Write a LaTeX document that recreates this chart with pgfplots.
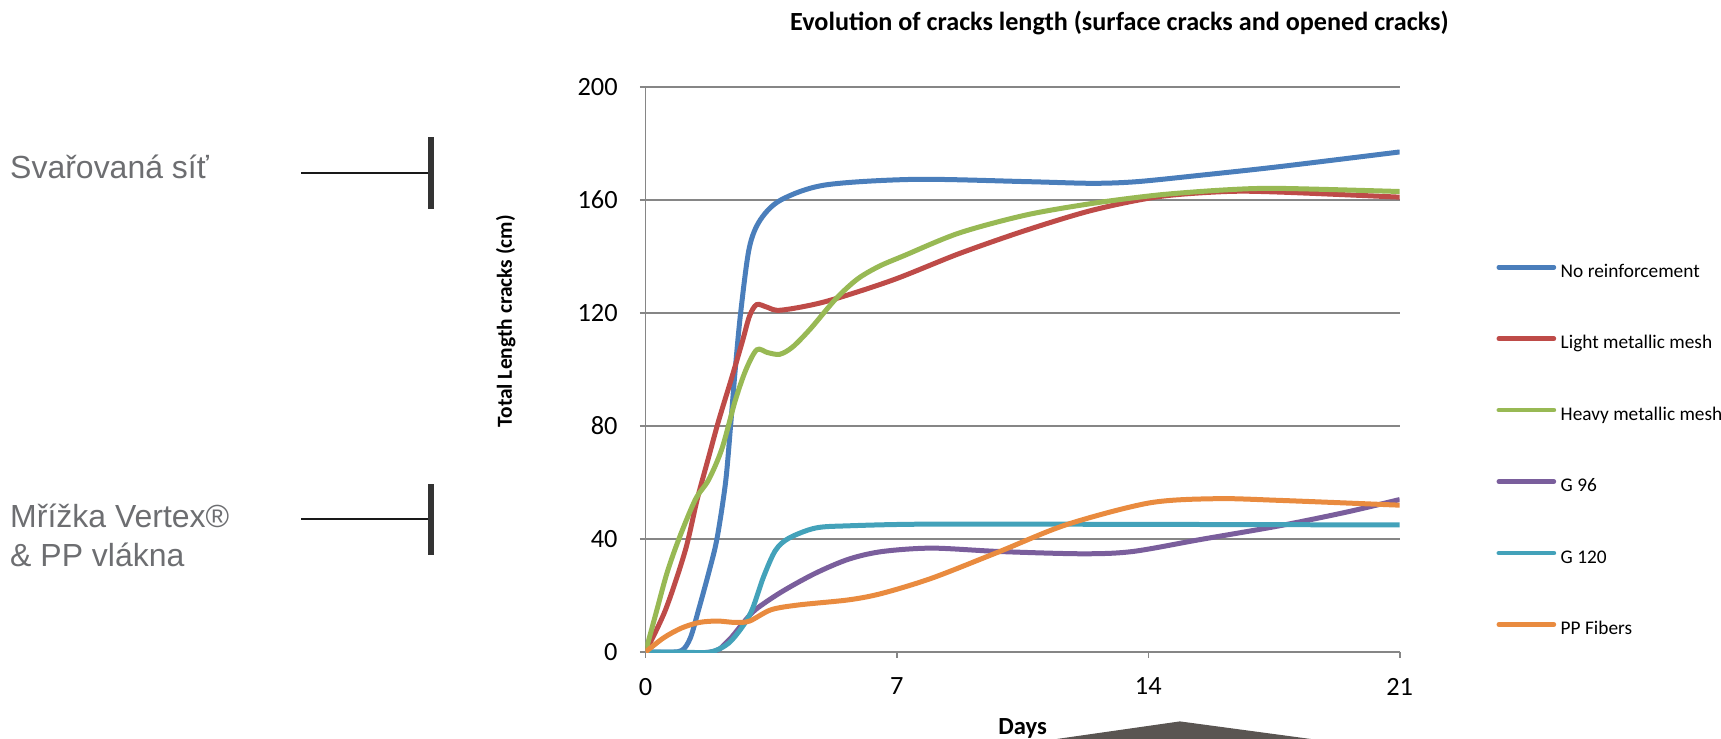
\documentclass[border=0pt]{standalone}
\usepackage{pgfplots}
\pgfplotsset{compat=1.18}
\usepackage{fontspec}
\setmainfont{Carlito}
\newfontfamily\arialf{Liberation Sans}
\definecolor{cBlue}{HTML}{4A7EBB}
\definecolor{cRed}{HTML}{BE4B48}
\definecolor{cGreen}{HTML}{98B954}
\definecolor{cPurple}{HTML}{7A5E9C}
\definecolor{cTeal}{HTML}{43A2BA}
\definecolor{cOrange}{HTML}{E98B3F}
\definecolor{gridgray}{HTML}{868686}
\definecolor{anngray}{HTML}{6D6E71}
\definecolor{bargray}{HTML}{333333}
\definecolor{shapegray}{HTML}{5A5552}
\begin{document}
\begin{tikzpicture}[x=0.022cm,y=0.022cm]
\useasboundingbox (0,0) rectangle (1565,672);
% left annotations
\node[anchor=west,inner sep=0pt,font=\arialf\fontsize{18.2}{21}\selectfont,text=anngray] at (9,520) {Svařovaná síť};
\draw[line width=0.046cm,black!90] (274,515) -- (390,515);
\fill[bargray] (389,482) rectangle (395,547);
\node[anchor=west,inner sep=0pt,align=left,font=\arialf\fontsize{18.2}{22}\selectfont,text=anngray] at (9,185) {Mřížka Vertex®\\\& PP vlákna};
\draw[line width=0.046cm,black!90] (274,200) -- (390,200);
\fill[bargray] (389,167) rectangle (395,232);
% title
\node[font=\bfseries\fontsize{14.9}{17}\selectfont] at (1018,651) {Evolution of cracks length (surface cracks and opened cracks)};
% y label
\node[rotate=90,font=\bfseries\fontsize{12.2}{14}\selectfont] at (460,380) {Total Length cracks (cm)};
% bottom shape
\fill[shapegray] (961,0) -- (1073,16) -- (1192,0) -- cycle;
% x label
\node[anchor=base,font=\bfseries\fontsize{14}{16}\selectfont] at (930,4) {Days};
\begin{axis}[
  at={(12.914cm,1.738cm)}, anchor=south west,
  width=15.092cm, height=11.308cm, scale only axis,
  xmin=0, xmax=21, ymin=0, ymax=200,
  xtick={0,7,14,21}, ytick={0,40,80,120,160,200},
  axis x line=bottom, axis y line=left,
  axis line style={-, draw=gridgray, line width=0.9pt},
  tick style={draw=gridgray, line width=0.9pt},
  tick align=outside, major tick length=0.11cm,
  ymajorgrids, grid style={draw=gridgray, line width=0.9pt},
  /pgf/number format/assume math mode=true,
  tick label style={font=\fontsize{15}{18}\selectfont, inner sep=0pt},
  yticklabel style={xshift=-0.44cm},
  xticklabel style={yshift=-0.4cm},
  clip=true,
  legend cell align=left,
  legend style={at={(1.1283,0.690)}, anchor=north west, draw=none, fill=none,
    inner sep=0pt, outer sep=0pt, row sep=1.03cm,
    font=\fontsize{11}{13}\selectfont,
    nodes={inner sep=0pt, text height=0.3cm, text depth=0.1cm},
    /tikz/every odd column/.append style={column sep=0.09cm}},
  legend image code/.code={\draw[#1, line width=0.095cm, line cap=round] (0cm,0.1cm) -- (1.1cm,0.1cm);},
  every axis plot/.append style={line width=0.1cm, smooth, tension=0.5, no markers},
]
\addplot[cBlue] coordinates {(0,0) (0.5,0) (1.0,0.5) (1.25,5) (1.48,15) (1.76,28) (1.99,40) (2.23,60) (2.37,80) (2.5,100) (2.65,120) (2.89,143) (3.2,153) (3.77,160) (5.0,165.3) (7.5,167.3) (10.6,166.5) (12.45,165.9) (13.7,166.5) (15.56,168.9) (17.65,171.8) (21,177)};
\addlegendentry{No reinforcement}
\addplot[cRed] coordinates {(0,0) (0.56,15) (1.11,36) (1.44,54) (1.76,69) (2.04,82) (2.4,97) (2.7,110) (2.9,119) (3.1,123) (3.4,122) (3.77,121) (5.0,124) (6.87,131.6) (8.73,141) (10.6,149.3) (12.45,156.4) (14.3,161.2) (16.18,163) (17.65,162.8) (21,161)};
\addlegendentry{Light metallic mesh}
\addplot[cGreen] coordinates {(0,0) (0.32,15) (0.6,28) (0.93,40) (1.39,54) (1.76,61) (2.13,72) (2.5,89) (2.8,100) (3.1,107) (3.4,106) (3.74,105.4) (4.1,108) (4.6,114.5) (5.3,125) (5.9,132) (6.5,136.5) (7.2,140.3) (8.73,148.3) (10.6,154.7) (12.45,158.8) (14.3,161.8) (16.18,163.6) (17.65,164.1) (21,163)};
\addlegendentry{Heavy metallic mesh}
\addplot[cPurple] coordinates {(0,0) (1.8,0) (2.3,4) (2.7,10) (3.06,15) (3.8,21.4) (4.73,27.9) (5.66,32.9) (6.59,35.6) (7.98,36.8) (9.86,35.6) (12.17,34.8) (13.56,35.6) (15.43,39.8) (17.65,44.7) (19.5,49.5) (21,54)};
\addlegendentry{G 96}
\addplot[cTeal] coordinates {(0,0) (1.0,0) (1.8,0) (2.3,3) (2.7,9) (2.97,15) (3.29,26.7) (3.62,36) (3.99,40.3) (4.73,43.9) (5.66,44.7) (7.98,45.3) (14,45.2) (21,45)};
\addlegendentry{G 120}
\addplot[cOrange] coordinates {(0,0) (0.5,5) (1.0,8.5) (1.5,10.5) (2.0,11) (2.5,10.5) (2.9,11) (3.5,15) (4.27,16.7) (5.66,18.5) (6.59,20.8) (7.98,26.2) (9.86,35.6) (11.72,45.1) (14.03,52.8) (15.9,54.3) (17.65,53.7) (21,52)};
\addlegendentry{PP Fibers}
\end{axis}
\end{tikzpicture}
\end{document}
